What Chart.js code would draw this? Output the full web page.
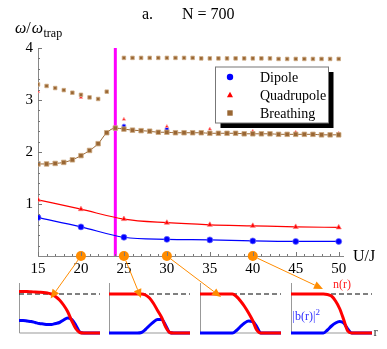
<!DOCTYPE html>
<html>
<head>
<meta charset="utf-8">
<script src="https://cdn.jsdelivr.net/npm/chart.js@4.4.0/dist/chart.umd.min.js"></script>
<style>
  html, body { margin: 0; padding: 0; background: #fff; }
  #wrap { position: relative; width: 387px; height: 349px; overflow: hidden; }
  #wrap canvas { position: absolute; }
</style>
</head>
<body>
<div id="wrap">
  <canvas id="main" width="387" height="349" style="left:0;top:0"></canvas>
  <canvas id="inset0" width="89" height="58" style="left:15px;top:279px"></canvas>
  <canvas id="inset1" width="89" height="58" style="left:105px;top:279px"></canvas>
  <canvas id="inset2" width="89" height="58" style="left:196px;top:279px"></canvas>
  <canvas id="inset3" width="89" height="58" style="left:287px;top:279px"></canvas>
  <canvas id="overlay" width="387" height="349" style="left:0;top:0"></canvas>
</div>
<script>
// main panel data
const uMajor = [15, 20, 25, 30, 35, 40, 45, 50];
const dipole = [0.74, 0.56, 0.36, 0.32, 0.31, 0.29, 0.28, 0.28];
const quadrupole = [1.08, 0.90, 0.71, 0.64, 0.60, 0.58, 0.56, 0.55];
const quadrupoleHigh = [3.16, 3.05, 2.63, 2.49, 2.44, 2.40, 2.38, 2.36];
const dipoleHighU = [25, 30];
const dipoleHigh = [2.50, 2.44];

const breathingU = [15, 16, 17, 18, 19, 20, 21, 22, 23, 24, 25, 26, 27, 28, 29, 30, 31, 32,
  33, 34, 35, 36, 37, 38, 39, 40, 41, 42, 43, 44, 45, 46, 47, 48, 49, 50];
const breathingLow = [1.77, 1.77, 1.78, 1.80, 1.85, 1.93, 2.03, 2.16, 2.37, 2.46, 2.44, 2.42,
  2.41, 2.40, 2.38, 2.38, 2.37, 2.37, 2.37, 2.37, 2.36, 2.36, 2.36, 2.36, 2.35, 2.35, 2.35,
  2.35, 2.34, 2.34, 2.34, 2.34, 2.34, 2.33, 2.33, 2.33];
const breathingUpLeftU = [15, 16, 17, 18, 19, 20, 21, 22, 23];
const breathingUpLeft = [3.30, 3.27, 3.23, 3.19, 3.14, 3.10, 3.05, 3.02, 3.16];
const breathingUpRightU = [25, 26, 27, 28, 29, 30, 31, 32, 33, 34, 35, 36, 37, 38, 39, 40, 41,
  42, 43, 44, 45, 46, 47, 48, 49, 50];
const breathingUpRight = [3.81, 3.81, 3.81, 3.81, 3.81, 3.81, 3.81, 3.81, 3.81, 3.80, 3.80,
  3.80, 3.80, 3.80, 3.80, 3.80, 3.80, 3.80, 3.79, 3.79, 3.79, 3.79, 3.79, 3.79, 3.79, 3.79];

const transitionU = 24;
const snapshotU = [20, 25, 30, 40];
const xTicks = [15, 20, 25, 30, 35, 40, 45, 50];
const yTicks = [1, 2, 3, 4];

// inset profiles, r in arbitrary units
const rGrid = [0, 0.5, 1, 1.5, 2, 2.5, 3, 3.5, 4, 4.5, 5, 5.5, 6, 6.5, 7, 7.5, 8, 8.5, 9, 9.5, 10];
const densityProfiles = [
  [0.83, 0.83, 0.83, 0.825, 0.82, 0.815, 0.81, 0.80, 0.78, 0.73, 0.66, 0.56, 0.43, 0.25, 0.09, 0.01, 0, 0, 0, 0, 0],
  [0.78, 0.78, 0.78, 0.78, 0.78, 0.78, 0.78, 0.78, 0.78, 0.76, 0.70, 0.59, 0.45, 0.31, 0.12, 0.01, 0, 0, 0, 0, 0],
  [0.78, 0.78, 0.78, 0.78, 0.78, 0.78, 0.78, 0.78, 0.78, 0.73, 0.64, 0.53, 0.40, 0.25, 0.06, 0, 0, 0, 0, 0, 0],
  [0.78, 0.78, 0.78, 0.78, 0.78, 0.78, 0.78, 0.78, 0.78, 0.77, 0.74, 0.64, 0.49, 0.27, 0.04, 0, 0, 0, 0, 0, 0]
];
const bosonProfiles = [
  [0.25, 0.25, 0.24, 0.23, 0.21, 0.19, 0.18, 0.17, 0.17, 0.19, 0.21, 0.26, 0.30, 0.27, 0.16, 0.02, 0, 0, 0, 0, 0],
  [0, 0, 0, 0, 0, 0, 0, 0, 0.01, 0.07, 0.15, 0.22, 0.27, 0.27, 0.15, 0.01, 0, 0, 0, 0, 0],
  [0, 0, 0, 0, 0, 0, 0, 0, 0, 0.05, 0.13, 0.20, 0.24, 0.23, 0.13, 0, 0, 0, 0, 0, 0],
  [0, 0, 0, 0, 0, 0, 0, 0, 0, 0.06, 0.14, 0.20, 0.23, 0.20, 0.08, 0, 0, 0, 0, 0, 0]
];
const fillingLevel = 0.78;
const arrowTargetR = [3.9, 3.95, 2.6, 3.95];
const arrowTargetN = [0.69, 0.70, 0.72, 0.88];

const BLUE = '#0000ff', RED = '#ff0000', BROWN = '#996633', ORANGE = '#ff8c00';
const SERIF = '"Liberation Serif", "DejaVu Serif", serif';

const pts = (xs, ys) => xs.map((x, i) => ({ x: x, y: ys[i] }));

const legendItems = [
  { label: 'Dipole', style: 'circle', color: BLUE },
  { label: 'Quadrupole', style: 'triangle', color: RED },
  { label: 'Breathing', style: 'rect', color: BROWN }
];

function marker(ctx, style, x, y, r, color) {
  ctx.fillStyle = color;
  ctx.beginPath();
  if (style === 'circle') {
    ctx.arc(x, y, r, 0, Math.PI * 2);
  } else if (style === 'triangle') {
    ctx.moveTo(x, y - r);
    ctx.lineTo(x + r * 0.95, y + r * 0.7);
    ctx.lineTo(x - r * 0.95, y + r * 0.7);
    ctx.closePath();
  } else {
    ctx.rect(x - r, y - r, 2 * r, 2 * r);
  }
  ctx.fill();
}

const mainDecor = {
  id: 'mainDecor',
  afterDraw(chart) {
    const ctx = chart.ctx, xs = chart.scales.x, ys = chart.scales.y, a = chart.chartArea;
    ctx.save();
    // ticks pointing into the plot
    ctx.strokeStyle = '#777';
    ctx.lineWidth = 1;
    ctx.beginPath();
    for (let u = 15; u <= 50; u++) {
      const px = Math.round(xs.getPixelForValue(u)) + 0.5;
      const len = u % 5 === 0 ? 4 : 2;
      ctx.moveTo(px, a.bottom);
      ctx.lineTo(px, a.bottom - len);
    }
    for (let k = 1; k <= 20; k++) {
      const py = Math.round(ys.getPixelForValue(k * 0.2)) + 0.5;
      const len = k % 5 === 0 ? 4 : 2;
      ctx.moveTo(a.left, py);
      ctx.lineTo(a.left + len, py);
    }
    ctx.stroke();

    // titles
    ctx.fillStyle = '#000';
    ctx.textBaseline = 'alphabetic';
    ctx.font = '16px ' + SERIF;
    ctx.fillText('a.', 142, 19);
    ctx.fillText('N = 700', 182, 19);
    ctx.fillText('U/J', 353, 261);

    let tx = 15;
    ctx.font = 'italic 16px ' + SERIF;
    ctx.fillText('\u03c9', tx, 33); tx += ctx.measureText('\u03c9').width;
    ctx.font = '16px ' + SERIF;
    ctx.fillText('/', tx, 33); tx += ctx.measureText('/').width + 1;
    ctx.font = 'italic 16px ' + SERIF;
    ctx.fillText('\u03c9', tx, 33); tx += ctx.measureText('\u03c9').width + 0.5;
    ctx.font = '12px ' + SERIF;
    ctx.fillText('trap', tx, 37);

    // legend box with shadow
    const bx = 215.5, by = 67, bw = 113, bh = 56;
    ctx.fillStyle = '#000';
    ctx.fillRect(bx + 5, by + 5, bw, bh);
    ctx.fillStyle = '#fff';
    ctx.fillRect(bx, by, bw, bh);
    ctx.strokeStyle = '#777';
    ctx.strokeRect(bx, by, bw, bh);
    ctx.font = '14px ' + SERIF;
    ctx.textBaseline = 'middle';
    legendItems.forEach((it, i) => {
      const yy = by + 10 + i * 18;
      marker(ctx, it.style, 230, yy, it.style === 'rect' ? 2.7 : 3.2, it.color);
      ctx.fillStyle = '#000';
      ctx.fillText(it.label, 260, yy + 1);
    });
    ctx.restore();
  }
};

const mainChart = new Chart(document.getElementById('main'), {
  type: 'line',
  data: {
    datasets: [
      { label: 'Dipole', data: pts(uMajor, dipole), borderColor: BLUE, borderWidth: 1.2,
        pointStyle: 'circle', pointRadius: 3, pointBackgroundColor: BLUE,
        pointBorderColor: 'rgba(110,110,255,0.7)', pointBorderWidth: 1,
        cubicInterpolationMode: 'monotone', order: 2 },
      { label: 'Quadrupole', data: pts(uMajor, quadrupole), borderColor: RED, borderWidth: 1.2,
        pointStyle: 'triangle', pointRadius: 3, pointBackgroundColor: RED,
        pointBorderColor: 'rgba(255,120,120,0.7)', pointBorderWidth: 1,
        cubicInterpolationMode: 'monotone', order: 2 },
      { label: 'Breathing', data: pts(breathingU, breathingLow), borderColor: BROWN, borderWidth: 1,
        pointStyle: 'rect', pointRadius: 3.2, pointBackgroundColor: BROWN,
        pointBorderColor: 'rgba(205,170,130,0.8)', pointBorderWidth: 1,
        cubicInterpolationMode: 'monotone', order: 3 },
      { label: 'Breathing upper', data: pts(breathingUpLeftU, breathingUpLeft), showLine: false,
        pointStyle: 'rect', pointRadius: 2.5, pointBackgroundColor: BROWN,
        pointBorderColor: 'rgba(205,170,130,0.8)', pointBorderWidth: 1, order: 3 },
      { label: 'Breathing upper 2', data: pts(breathingUpRightU, breathingUpRight), showLine: false,
        pointStyle: 'rect', pointRadius: 2.5, pointBackgroundColor: BROWN,
        pointBorderColor: 'rgba(205,170,130,0.8)', pointBorderWidth: 1, order: 3 },
      { label: 'Quadrupole upper', data: pts(uMajor, quadrupoleHigh), showLine: false,
        pointStyle: 'triangle', pointRadius: 2, pointBackgroundColor: RED,
        pointBorderColor: 'rgba(255,170,170,0.8)', pointBorderWidth: 1, order: 4 },
      { label: 'Dipole upper', data: pts(dipoleHighU, dipoleHigh), showLine: false,
        pointStyle: 'circle', pointRadius: 2, pointBackgroundColor: BLUE,
        pointBorderColor: 'rgba(150,150,255,0.8)', pointBorderWidth: 1, order: 4 },
      { label: 'transition', data: pts([transitionU, transitionU], [0, 4]), borderColor: '#ff00ff',
        borderWidth: 3, pointRadius: 0, order: 10, clip: false },
      { label: 'snapshots', data: pts(snapshotU, snapshotU.map(() => 0)), showLine: false,
        pointStyle: 'circle', pointRadius: 5, pointBackgroundColor: ORANGE,
        pointBorderColor: ORANGE, pointBorderWidth: 0, order: -5, clip: false }
    ]
  },
  options: {
    responsive: false,
    animation: false,
    layout: { padding: { top: 48, right: 44, bottom: 0, left: 0 } },
    plugins: { legend: { display: false }, tooltip: { enabled: false } },
    scales: {
      x: {
        type: 'linear', min: 15, max: 50.5,
        grid: { display: false, drawTicks: false },
        border: { display: true, color: '#888', width: 1 },
        afterBuildTicks: s => { s.ticks = xTicks.map(v => ({ value: v })); },
        afterFit: s => { s.height = 93; },
        ticks: { color: '#000', font: { family: SERIF, size: 15 }, padding: 4, autoSkip: false, maxRotation: 0 }
      },
      y: {
        type: 'linear', min: 0, max: 4,
        grid: { display: false, drawTicks: false },
        border: { display: true, color: '#888', width: 1 },
        afterBuildTicks: s => { s.ticks = yTicks.map(v => ({ value: v })); },
        afterFit: s => { s.width = 38; },
        ticks: { color: '#000', font: { family: SERIF, size: 15 }, padding: 5 }
      }
    }
  },
  plugins: [mainDecor]
});

const insetAxes = {
  id: 'insetAxes',
  beforeDatasetsDraw(chart) {
    const ctx = chart.ctx, a = chart.chartArea;
    ctx.save();
    ctx.strokeStyle = '#999';
    ctx.lineWidth = 1;
    ctx.beginPath();
    ctx.moveTo(a.left + 0.5, a.top);
    ctx.lineTo(a.left + 0.5, a.bottom);
    ctx.lineTo(a.right, a.bottom);
    ctx.stroke();
    ctx.restore();
  }
};

const insetCharts = densityProfiles.map((dens, i) => new Chart(document.getElementById('inset' + i), {
  type: 'line',
  data: {
    datasets: [
      { data: pts(rGrid, dens), borderColor: RED, borderWidth: 3, pointRadius: 0,
        cubicInterpolationMode: 'monotone', clip: false },
      { data: pts(rGrid, bosonProfiles[i]), borderColor: BLUE, borderWidth: 3, pointRadius: 0,
        cubicInterpolationMode: 'monotone', clip: false },
      { data: pts([rGrid[0], rGrid[rGrid.length - 1]], [fillingLevel, fillingLevel]),
        borderColor: '#000', borderWidth: 1, borderDash: [5, 3], pointRadius: 0 }
    ]
  },
  options: {
    responsive: false,
    animation: false,
    layout: { padding: 4 },
    plugins: { legend: { display: false }, tooltip: { enabled: false } },
    scales: {
      x: { type: 'linear', min: 0, max: 10, display: false },
      y: { type: 'linear', min: 0, max: 1, display: false }
    }
  },
  plugins: [insetAxes]
}));

// arrows and inset labels on top of everything
const ov = document.getElementById('overlay').getContext('2d');
function insetPoint(i, r, n) {
  const c = insetCharts[i];
  const el = c.canvas;
  return {
    x: el.offsetLeft + c.scales.x.getPixelForValue(r),
    y: el.offsetTop + c.scales.y.getPixelForValue(n)
  };
}
snapshotU.forEach((u, i) => {
  const sx = mainChart.scales.x.getPixelForValue(u);
  const sy = mainChart.scales.y.getPixelForValue(0);
  const t = insetPoint(i, arrowTargetR[i], arrowTargetN[i]);
  const ang = Math.atan2(t.y - sy, t.x - sx);
  const head = 9, half = 4;
  ov.strokeStyle = ORANGE;
  ov.fillStyle = ORANGE;
  ov.lineWidth = 1;
  ov.beginPath();
  ov.moveTo(sx + 5 * Math.cos(ang), sy + 5 * Math.sin(ang));
  ov.lineTo(t.x - head * Math.cos(ang), t.y - head * Math.sin(ang));
  ov.stroke();
  ov.beginPath();
  ov.moveTo(t.x, t.y);
  const bx = t.x - head * Math.cos(ang), by = t.y - head * Math.sin(ang);
  ov.lineTo(bx + half * Math.sin(ang), by - half * Math.cos(ang));
  ov.lineTo(bx - half * Math.sin(ang), by + half * Math.cos(ang));
  ov.closePath();
  ov.fill();
});

const pN = insetPoint(3, 5.2, 0.9);
const pB = insetPoint(3, 0.2, 0.27);
const pR = insetPoint(3, 10.2, -0.05);
ov.textBaseline = 'alphabetic';
ov.font = '12px ' + SERIF;
ov.fillStyle = '#ff2020';
ov.fillText('n(r)', pN.x, pN.y);
ov.fillStyle = '#3030ff';
ov.fillText('|b(r)|', pB.x, pB.y);
const bw = ov.measureText('|b(r)|').width;
ov.font = '9px ' + SERIF;
ov.fillText('2', pB.x + bw, pB.y - 5);
ov.fillStyle = '#333';
ov.font = '13px ' + SERIF;
ov.fillText('r', pR.x, pR.y);
</script>
</body>
</html>
